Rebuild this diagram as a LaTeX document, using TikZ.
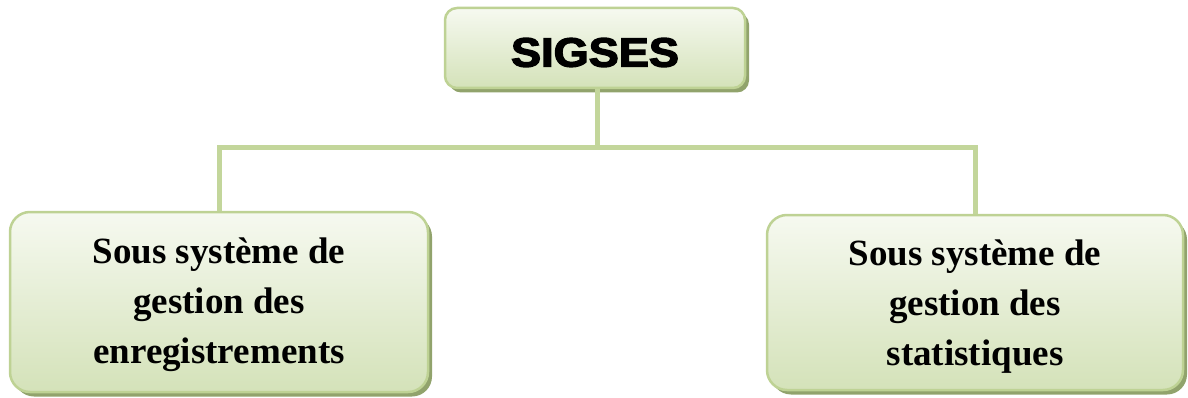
\documentclass[tikz,border=0pt]{standalone}
\usepackage{fontspec}
\setmainfont{Liberation Serif}
\newfontfamily\headfont{Liberation Sans}[FakeBold=3]
\usetikzlibrary{shadows}
\definecolor{linkc}{RGB}{195,214,155}
\definecolor{edgec}{RGB}{190,210,148}
\definecolor{boxtop}{RGB}{246,249,240}
\definecolor{boxbot}{RGB}{212,226,185}
\definecolor{shadowc}{RGB}{145,163,108}
\tikzset{
  x=1pt, y=1pt,
  panel/.style={draw=edgec, line width=2.5pt, rounded corners=#1,
    top color=boxtop, bottom color=boxbot,
    drop shadow={shadow xshift=4pt, shadow yshift=-4.5pt, fill=shadowc, opacity=1},
    align=center, inner sep=0pt},
  link/.style={draw=linkc, line width=5pt},
  subtext/.style={font=\bfseries\fontsize{37}{50}\selectfont}
}
\begin{document}
\begin{tikzpicture}
\useasboundingbox (0,0) rectangle (1188,-398);
% root node
\node[panel=12pt, minimum width=300pt, minimum height=80pt,
      font=\headfont\bfseries\fontsize{41}{45}\selectfont] (root) at (595,-48)
  {\raisebox{-4.5pt}[\height][\depth]{\scalebox{1.1}[1]{SIGSES}}};
% two subsystems
\node[panel=20pt, minimum width=418pt, minimum height=180pt, subtext] (left) at (219,-302)
  {\raisebox{-3pt}[\height][\depth]{\parbox{400pt}{\centering Sous système de\\gestion des\\enregistrements}}};
\node[panel=20pt, minimum width=416pt, minimum height=175pt, subtext] (right) at (975,-302.5)
  {\raisebox{-4pt}[\height][\depth]{\parbox{400pt}{\centering Sous système de\\gestion des\\statistiques}}};
% tree connectors
\coordinate (fork) at (597,-148);
\draw[link] (root.south -| fork) -- (fork);
\draw[link] (fork) -| (left.north);
\draw[link] (fork) -| (right.north);
\end{tikzpicture}
\end{document}
